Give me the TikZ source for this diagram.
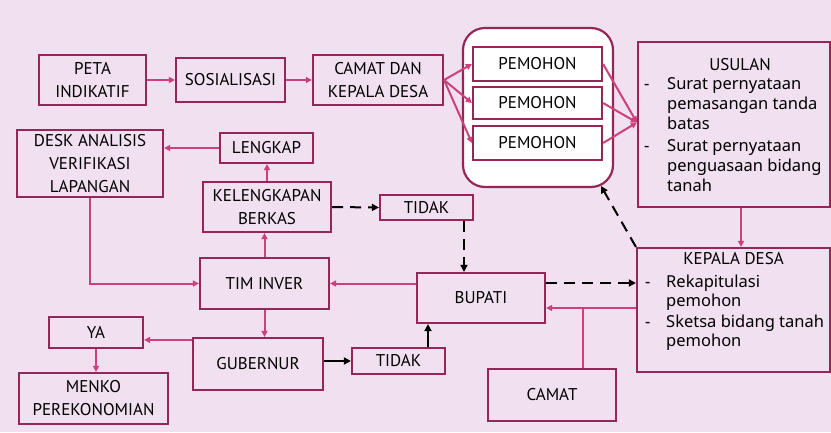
\documentclass[tikz,border=0pt]{standalone}
\usepackage{fontspec}
\setmainfont{PT Sans}
\newfontfamily\listfont{Noto Sans}
\usetikzlibrary{arrows.meta}
\definecolor{bgc}{RGB}{240,224,240}
\definecolor{boxc}{RGB}{150,38,88}
\definecolor{arrc}{RGB}{204,64,124}
\begin{document}
\begin{tikzpicture}[x=1pt,y=-1pt,
  box/.style={draw=boxc, line width=2.2pt, align=center, inner sep=0pt, font=\fontsize{17}{23}\selectfont},
  lbl/.style={inner sep=0pt, font=\fontsize{17}{20}\selectfont},
  ltxt/.style={inner sep=0pt, anchor=base west, font=\listfont\fontsize{16.5}{20}\selectfont},
  parr/.style={draw=arrc, line width=2pt, -{Triangle[length=6pt,width=6pt]}},
  pline/.style={draw=arrc, line width=2pt},
  barr/.style={draw=black, line width=2pt, -{Triangle[length=7pt,width=7pt]}},
  darr/.style={barr, dash pattern=on 11pt off 7pt}]
\fill[bgc] (0,0) rectangle (831,432);
\useasboundingbox (0,0) rectangle (831,432);

% boxes
\node[box, minimum width=107pt, minimum height=50pt] (peta) at (92.5,80) {PETA\\INDIKATIF};
\node[box, minimum width=109pt, minimum height=44pt] (sos) at (230.5,80) {SOSIALISASI};
\node[box, minimum width=130pt, minimum height=50pt] (camatdan) at (378,80) {CAMAT DAN\\KEPALA DESA};
\node[draw=boxc, line width=2.2pt, fill=white, rounded corners=22pt, minimum width=150pt, minimum height=159pt] (grp) at (538,107.5) {};
\node[box, fill=white, minimum width=129pt, minimum height=34pt] (p1) at (537.5,64) {PEMOHON};
\node[box, fill=white, minimum width=129pt, minimum height=32pt] (p2) at (537.5,103) {PEMOHON};
\node[box, fill=white, minimum width=129pt, minimum height=34pt] (p3) at (537.5,143) {PEMOHON};
\node[box, minimum width=192pt, minimum height=165pt] (usulan) at (734,124.5) {};
\node[box, minimum width=146pt, minimum height=67pt] (desk) at (90,163.5) {DESK ANALISIS\\VERIFIKASI\\LAPANGAN};
\node[box, minimum width=93pt, minimum height=30pt] (lengkap) at (266.5,148) {LENGKAP};
\node[box, minimum width=128pt, minimum height=50pt] (kel) at (267,207) {KELENGKAPAN\\BERKAS};
\node[box, minimum width=93pt, minimum height=25pt] (tidak1) at (426.5,207.5) {TIDAK};
\node[box, minimum width=129pt, minimum height=51pt] (timinver) at (264.5,283.5) {TIM INVER};
\node[box, minimum width=128pt, minimum height=50pt] (bupati) at (481,298) {BUPATI};
\node[box, minimum width=193pt, minimum height=124pt] (kepala) at (733.5,310) {};
\node[box, minimum width=94pt, minimum height=31pt] (ya) at (96,332.5) {YA};
\node[box, minimum width=149pt, minimum height=51pt] (menko) at (93.5,398.5) {MENKO\\PEREKONOMIAN};
\node[box, minimum width=130pt, minimum height=52pt] (gub) at (258,364) {GUBERNUR};
\node[box, minimum width=93pt, minimum height=26pt] (tidak2) at (398.5,361) {TIDAK};
\node[box, minimum width=128pt, minimum height=52pt] (camat) at (552,395) {CAMAT};

% USULAN text
\node[lbl, anchor=base] (usT) at (740,70) {USULAN};
\node[ltxt] (usd1) at (644,89) {-};
\node[ltxt] (us1) at (667,89) {Surat pernyataan};
\node[ltxt] (us2) at (667,109) {pemasangan tanda};
\node[ltxt] (us3) at (667,129) {batas};
\node[ltxt] (usd2) at (644,151) {-};
\node[ltxt] (us4) at (667,151) {Surat pernyataan};
\node[ltxt] (us5) at (667,171) {penguasaan bidang};
\node[ltxt] (us6) at (667,191) {tanah};

% KEPALA DESA text
\node[lbl, anchor=base] (kdT) at (733.5,264) {KEPALA DESA};
\node[ltxt] (kdd1) at (645,287) {-};
\node[ltxt] (kd1) at (666,287) {Rekapitulasi};
\node[ltxt] (kd2) at (666,306) {pemohon};
\node[ltxt] (kdd2) at (645,327) {-};
\node[ltxt] (kd3) at (666,327) {Sketsa bidang tanah};
\node[ltxt] (kd4) at (666,346) {pemohon};

\coordinate (gtip) at (601,186);

% connectors
\draw[parr] (peta) -- (sos);
\draw[parr] (sos) -- (camatdan);
\foreach \p in {p1,p2,p3} {
  \draw[parr] (camatdan.east) -- (\p.west);
  \draw[parr] (\p.east) -- ([yshift=2pt]usulan.west);
}
\draw[parr] ([xshift=7pt]usulan.south) -- ([xshift=7pt]usulan.south |- kepala.north);
\draw[darr] (kepala.north west) -- (gtip);
\draw[darr] ([yshift=15pt]bupati.east) -- ([yshift=15pt]bupati.east -| kepala.west);
\draw[parr] ([yshift=2pt]kepala.west) -- ([yshift=2pt]kepala.west -| bupati.east);
\draw[pline] ([xshift=31pt]camat.north) -- ([xshift=31pt,yshift=2pt]camat.north |- kepala.west);
\draw[parr] (bupati.west |- timinver.east) -- (timinver.east);
\draw[parr] (timinver.north) -- (timinver.north |- kel.south);
\draw[parr] (kel.north) -- (kel.north |- lengkap.south);
\draw[parr] (lengkap.west) -- (lengkap.west -| desk.east);
\draw[parr] (desk.south) |- (timinver.west);
\draw[darr] (kel.east) -- (tidak1.west);
\draw[darr] ([xshift=37.5pt]tidak1.south) -- ([xshift=37.5pt]tidak1.south |- bupati.north);
\draw[parr] (timinver.south) -- (timinver.south |- gub.north);
\draw[parr] ([yshift=-3pt]gub.north west) -- ([yshift=-3pt]gub.north west -| ya.east);
\draw[parr] (ya.south) -- (ya.south |- menko.north);
\draw[barr] (gub.east |- tidak2.west) -- (tidak2.west);
\draw[barr] ([xshift=29.5pt]tidak2.north) -- ([xshift=29.5pt]tidak2.north |- bupati.south);
\end{tikzpicture}
\end{document}
